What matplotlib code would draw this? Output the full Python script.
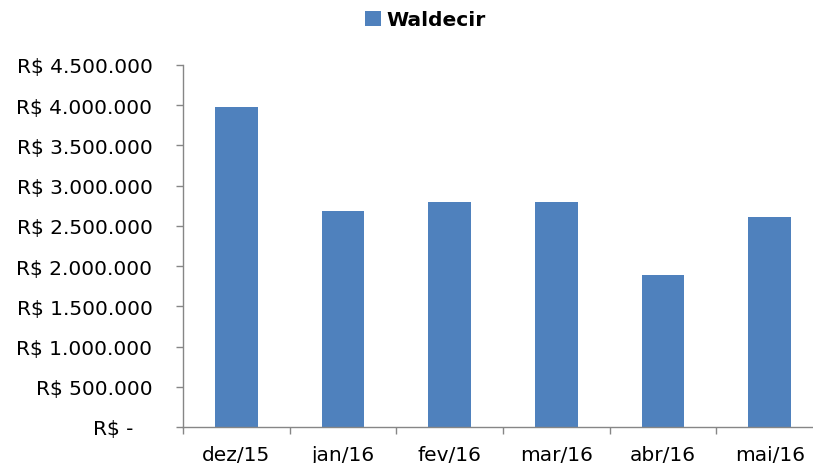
import matplotlib.pyplot as plt
from matplotlib.ticker import FuncFormatter, FixedLocator

meses = ["dez/15", "jan/16", "fev/16", "mar/16", "abr/16", "mai/16"]
valores = [3975000, 2685000, 2795000, 2795000, 1890000, 2610000]
serie = "Waldecir"

cor_barra = "#4F81BD"
cor_eixo = "#868686"


def formatar_real(v, pos):
    if v == 0:
        return "R$ -   "
    s = "{:,.0f}".format(v).replace(",", ".")
    return "R$ " + s


fig = plt.figure(figsize=(8.13, 4.64), dpi=100)
ax = fig.add_axes([183 / 813, 36 / 464, 640 / 813, 362 / 464])

x = list(range(len(meses)))
barras = ax.bar(x, valores, width=0.4, color=cor_barra, label=serie, zorder=2)

ax.set_xlim(-0.5, len(meses) - 0.5)
ax.set_ylim(0, 4500000)
ax.yaxis.set_major_locator(FixedLocator([i * 500000 for i in range(10)]))
ax.yaxis.set_major_formatter(FuncFormatter(formatar_real))

ax.set_xticks(x)
ax.set_xticklabels(meses)
ax.xaxis.set_minor_locator(FixedLocator([i - 0.5 for i in range(len(meses) + 1)]))
ax.tick_params(axis="x", which="major", length=0, pad=13, labelsize=14.5)
ax.tick_params(axis="x", which="minor", length=5, width=1, color=cor_eixo, direction="out")
ax.tick_params(axis="y", length=5, width=1, color=cor_eixo, direction="out", pad=17, labelsize=14.5)

for lado in ["top", "right"]:
    ax.spines[lado].set_visible(False)
for lado in ["left", "bottom"]:
    ax.spines[lado].set_color(cor_eixo)
    ax.spines[lado].set_linewidth(1)

fig.legend(handles=[barras], labels=[serie], loc="center", bbox_to_anchor=(0.523, 0.955),
           frameon=False, prop={"weight": "bold", "size": 14.5},
           handlelength=0.8, handleheight=0.8, handletextpad=0.25)

fig.savefig("out.png", dpi=100)
